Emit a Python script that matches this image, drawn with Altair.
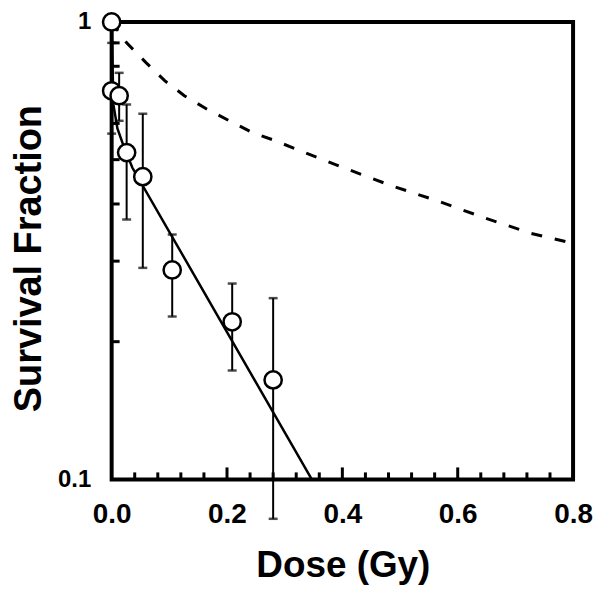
import altair as alt
import pandas as pd

# ---- data ----
dose = [0.0, 0.0, 0.013, 0.026, 0.054, 0.105, 0.209, 0.280]
surv = [1.0, 0.707, 0.690, 0.518, 0.459, 0.287, 0.221, 0.165]
err_lo = [None, 0.57, 0.608, 0.37, 0.29, 0.227, 0.173, 0.082]
err_hi = [None, 0.90, 0.774, 0.66, 0.63, 0.343, 0.268, 0.249]

fit_x = [0.0, 0.003, 0.010, 0.022, 0.036, 0.347]
fit_y = [1.0, 0.66, 0.585, 0.53, 0.48, 0.10]

dash_x = [0.0, 0.026, 0.060, 0.092, 0.126, 0.164, 0.204, 0.244, 0.282, 0.325,
          0.406, 0.484, 0.563, 0.644, 0.727, 0.800]
dash_y = [1.0, 0.90, 0.814, 0.744, 0.690, 0.646, 0.608, 0.573, 0.551, 0.524,
          0.478, 0.439, 0.407, 0.374, 0.345, 0.328]

x_labels = [0.0, 0.2, 0.4, 0.6, 0.8]
y_labels = [0.1, 1.0]
x_minor = [0.04, 0.08, 0.12, 0.16, 0.24, 0.28, 0.32, 0.36, 0.44, 0.48, 0.52,
           0.56, 0.64, 0.68, 0.72, 0.76]
x_major = [0.2, 0.4, 0.6]
y_minor = [0.2, 0.3, 0.4, 0.5, 0.6, 0.7, 0.8, 0.9]

W, H = 463, 459
FONT = "Liberation Sans"

pts = pd.DataFrame({"dose": dose, "surv": surv, "lo": err_lo, "hi": err_hi})
errs = pts.dropna()
fit = pd.DataFrame({"dose": fit_x, "surv": fit_y})
dash = pd.DataFrame({"dose": dash_x, "surv": dash_y})

xs = alt.Scale(domain=[0, 0.8], nice=False, zero=False)
ys = alt.Scale(type="log", domain=[0.1, 1], nice=False)

xaxis = alt.Axis(values=x_labels, format=".1f", ticks=False, domain=False, grid=False,
                 labelFont=FONT, labelFontSize=28, labelFontWeight="bold", labelColor="black",
                 labelPadding=43, labelBaseline="alphabetic", labelFlush=False,
                 title="Dose (Gy)", titleFont=FONT, titleFontSize=37, titleFontWeight="bold",
                 titleColor="black", titleX=232, titleY=97, titleBaseline="alphabetic",
                 titleAlign="center")
yaxis = alt.Axis(values=y_labels, format="~g", ticks=False, domain=False, grid=False,
                 labelFont=FONT, labelFontSize=24, labelFontWeight="bold", labelColor="black",
                 labelPadding=21, labelFlush=False,
                 title="Survival Fraction", titleFont=FONT, titleFontSize=38,
                 titleFontWeight="bold", titleColor="black", titleX=-82, titleY=237,
                 titleAngle=-90, titleBaseline="middle", titleAlign="center")

X = lambda f: alt.X(f, scale=xs, axis=xaxis)
Y = lambda f: alt.Y(f, scale=ys, axis=yaxis)

dash_line = alt.Chart(dash).mark_line(color="black", strokeWidth=3, strokeDash=[11, 13]).encode(
    x=X("dose:Q"), y=Y("surv:Q"))
fit_line = alt.Chart(fit).mark_line(color="black", strokeWidth=2.5).encode(
    x=X("dose:Q"), y=Y("surv:Q"))
bars = alt.Chart(errs).mark_rule(color="black", strokeWidth=2).encode(
    x=X("dose:Q"), y=Y("lo:Q"), y2="hi:Q")
cap_lo = alt.Chart(errs).mark_tick(color="black", orient="horizontal", size=9, thickness=2.5).encode(
    x=X("dose:Q"), y=Y("lo:Q"))
cap_hi = alt.Chart(errs).mark_tick(color="black", orient="horizontal", size=9, thickness=2.5).encode(
    x=X("dose:Q"), y=Y("hi:Q"))
circles = alt.Chart(pts).mark_point(shape="circle", size=300, filled=False, fill="white",
                                    fillOpacity=1, stroke="black", strokeWidth=2.5, opacity=1).encode(
    x=X("dose:Q"), y=Y("surv:Q"))

xminor = alt.Chart(pd.DataFrame({"t": x_minor})).mark_rule(color="black", strokeWidth=3).encode(
    x=X("t:Q"), y=alt.value(H), y2=alt.value(H - 7))
xmajor = alt.Chart(pd.DataFrame({"t": x_major})).mark_rule(color="black", strokeWidth=3).encode(
    x=X("t:Q"), y=alt.value(H), y2=alt.value(H - 12))
yminor = alt.Chart(pd.DataFrame({"t": y_minor})).mark_rule(color="black", strokeWidth=3).encode(
    y=Y("t:Q"), x=alt.value(0), x2=alt.value(8))

chart = alt.layer(xminor, xmajor, yminor, dash_line, fit_line, bars, cap_lo, cap_hi, circles).properties(
    width=W, height=H,
    background="white",
    autosize=alt.AutoSizeParams(type="none"),
    padding={"left": 104, "top": 13, "right": 20, "bottom": 110},
).configure_view(
    stroke="black", strokeWidth=4
)

chart.save("out.html", embed_options={"renderer": "svg", "actions": False})
